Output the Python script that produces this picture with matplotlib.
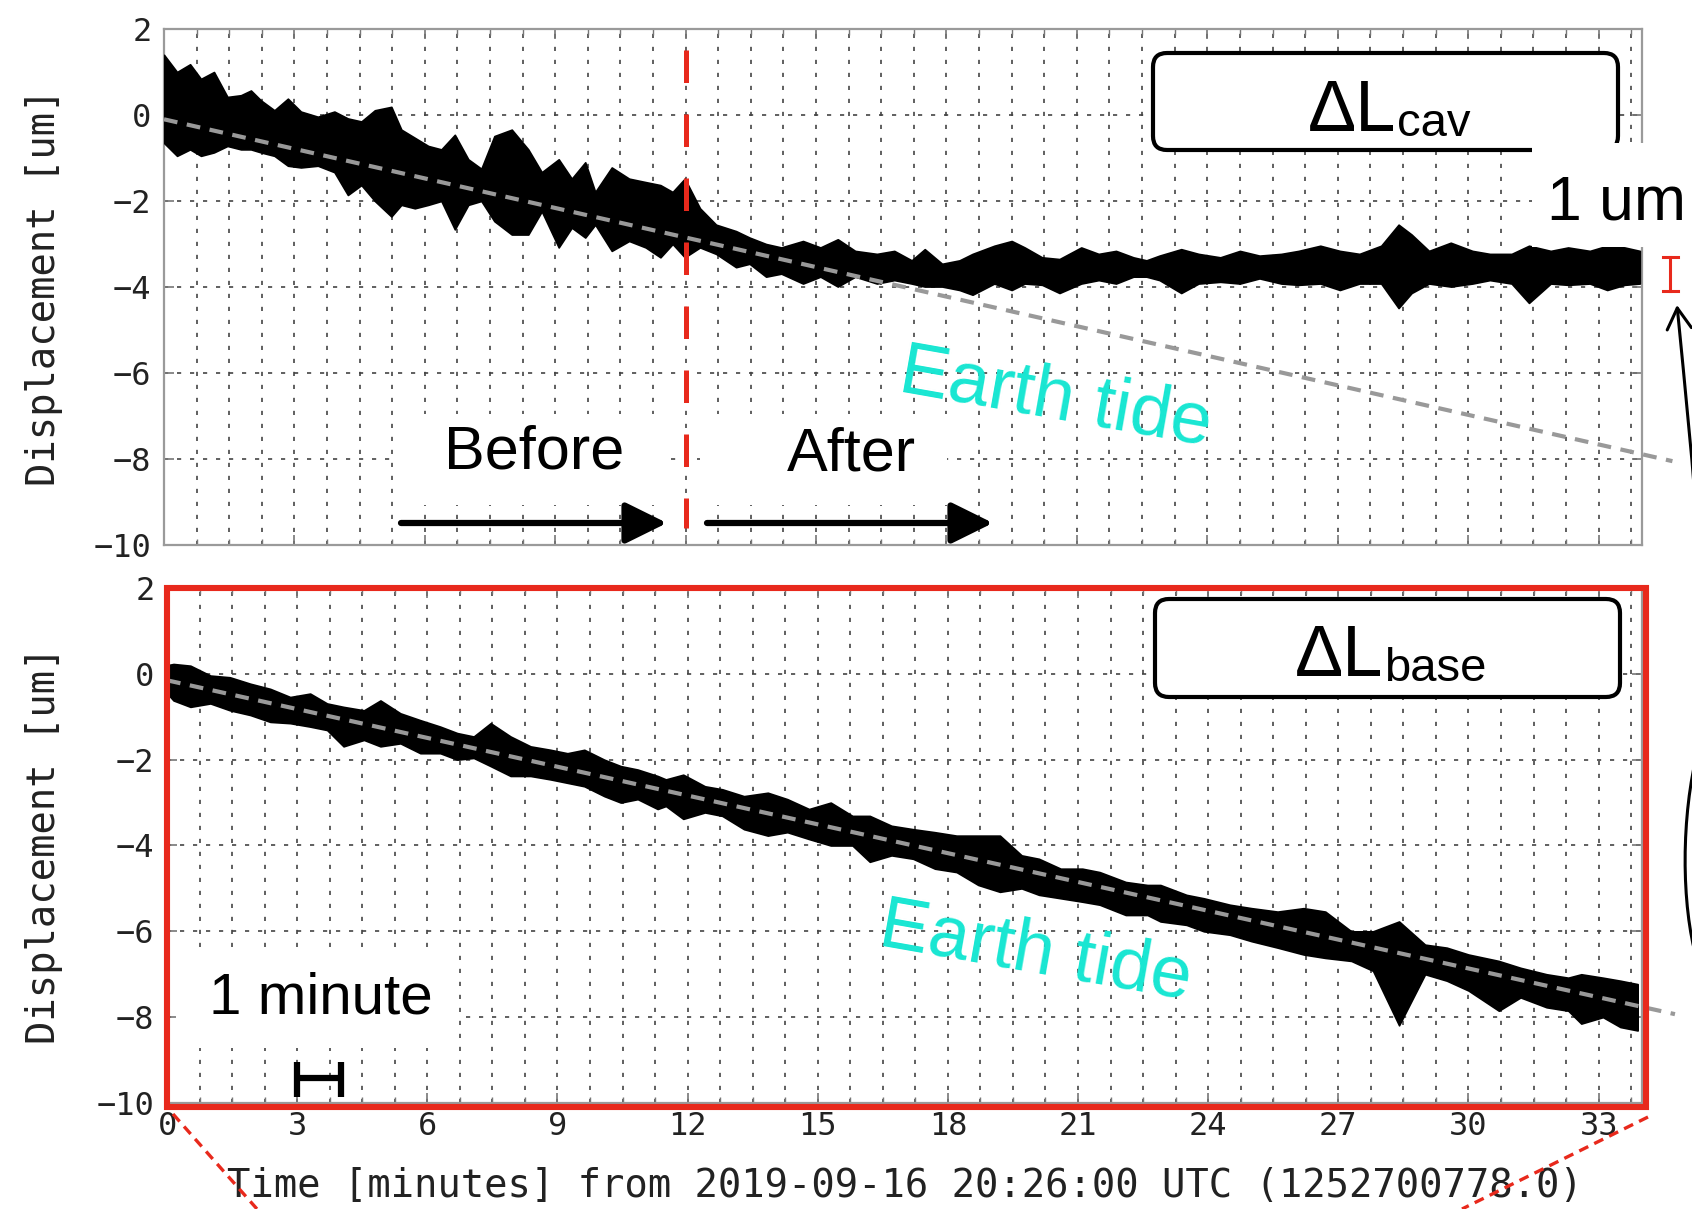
import matplotlib
matplotlib.use("Agg")
import matplotlib.pyplot as plt
from matplotlib.patches import Rectangle, FancyBboxPatch, FancyArrowPatch
from matplotlib.path import Path
from matplotlib.ticker import MultipleLocator

# ---- data (minutes, um) ----
# Delta L_cav: upper / lower envelope of the noisy trace
t_cav = [0.0, 0.3, 0.6, 0.85, 1.15, 1.46, 1.77, 2.0, 2.23, 2.54, 2.85, 3.15,
         3.54, 3.92, 4.23, 4.54, 4.85, 5.23, 5.46, 5.77, 6.08, 6.38, 6.69, 7.0,
         7.3, 7.6, 8.0, 8.38, 8.69, 9.08, 9.38, 9.69, 9.92, 10.3, 10.7, 11.08,
         11.42, 11.7, 11.98, 12.33, 12.7, 13.16, 13.47, 13.85, 14.2, 14.7, 15.1,
         15.5, 15.9, 16.4, 16.8, 17.2, 17.5, 17.9, 18.3, 18.6, 19.1, 19.5, 19.8,
         20.2, 20.6, 21.1, 21.5, 21.9, 22.3, 22.6, 22.9, 23.4, 23.8, 24.3, 24.75,
         25.2, 25.7, 26.1, 26.6, 27.05, 27.5, 28.0, 28.4, 28.7, 29.1, 29.6, 30.1,
         30.5, 31.0, 31.4, 31.9, 32.3, 32.8, 33.2, 33.6, 33.95]
cav_hi = [1.4, 1.0, 1.18, 0.84, 1.0, 0.42, 0.46, 0.57, 0.34, 0.11, 0.38, 0.08,
          -0.04, 0.08, -0.08, -0.15, 0.11, 0.19, -0.34, -0.53, -0.72, -0.8, -0.46,
          -1.03, -1.25, -0.49, -0.34, -0.8, -1.33, -1.03, -1.48, -1.1, -1.79,
          -1.22, -1.48, -1.56, -1.63, -1.79, -1.48, -2.17, -2.55, -2.7, -2.85,
          -3.0, -3.08, -2.93, -3.08, -2.89, -3.16, -3.23, -3.16, -3.38, -3.12,
          -3.46, -3.38, -3.23, -3.04, -2.93, -3.08, -3.31, -3.35, -3.08, -3.23,
          -3.16, -3.31, -3.38, -3.27, -3.12, -3.23, -3.31, -3.16, -3.27, -3.23,
          -3.16, -3.04, -3.16, -3.23, -3.04, -2.55, -2.78, -3.16, -2.97, -3.16,
          -3.23, -3.23, -3.04, -3.16, -3.08, -3.16, -3.04, -3.08, -3.16]
cav_lo = [-0.65, -0.95, -0.8, -0.95, -0.87, -0.72, -0.8, -0.8, -0.87, -0.95,
          -1.18, -1.22, -1.18, -1.33, -1.86, -1.63, -2.0, -2.36, -2.09, -2.17,
          -2.09, -2.0, -2.66, -2.09, -2.0, -2.47, -2.78, -2.78, -2.24, -3.08,
          -2.62, -2.85, -2.55, -3.16, -2.93, -3.08, -3.31, -3.0, -3.31, -3.08,
          -3.23, -3.54, -3.46, -3.76, -3.69, -3.92, -3.76, -3.99, -3.76, -3.92,
          -3.84, -3.92, -3.99, -3.99, -4.07, -4.18, -3.92, -4.07, -3.92, -3.95,
          -4.14, -3.92, -3.84, -3.92, -3.76, -3.76, -3.84, -4.14, -3.92, -3.88,
          -3.92, -3.8, -3.92, -3.95, -3.92, -4.07, -3.92, -3.92, -4.49, -4.14,
          -3.92, -3.99, -3.92, -3.84, -3.92, -4.37, -3.92, -3.95, -3.92, -4.07,
          -3.95, -3.92]

# Delta L_base: upper / lower envelope
t_base = [0.0, 0.15, 0.54, 1.0, 1.45, 1.92, 2.38, 2.84, 3.3, 3.69, 4.07, 4.54,
          4.92, 5.38, 5.84, 6.3, 6.69, 7.07, 7.46, 7.92, 8.38, 8.84, 9.23, 9.62,
          10.08, 10.46, 10.85, 11.31, 11.5, 11.9, 12.4, 12.8, 13.3, 13.85, 14.3,
          14.8, 15.3, 15.8, 16.2, 16.7, 17.2, 17.7, 18.2, 18.7, 19.2, 19.7, 20.1,
          20.6, 21.1, 21.5, 22.1, 22.6, 22.9, 23.5, 23.9, 24.5, 25.0, 25.6, 26.2,
          26.7, 27.3, 27.8, 28.4, 29.0, 29.5, 30.0, 30.7, 31.2, 31.8, 32.3, 32.6,
          33.1, 33.5, 33.9]
base_hi = [0.2, 0.23, 0.19, -0.04, -0.08, -0.23, -0.35, -0.54, -0.46, -0.69,
           -0.77, -0.85, -0.62, -0.92, -1.08, -1.23, -1.38, -1.46, -1.15, -1.46,
           -1.69, -1.77, -1.85, -1.77, -2.0, -2.15, -2.23, -2.38, -2.46, -2.35,
           -2.62, -2.69, -2.85, -2.77, -2.92, -3.15, -3.0, -3.31, -3.31, -3.54,
           -3.62, -3.69, -3.77, -3.77, -3.77, -4.23, -4.31, -4.54, -4.54, -4.62,
           -4.85, -4.92, -4.92, -5.15, -5.23, -5.38, -5.46, -5.54, -5.46, -5.54,
           -6.0, -6.0, -5.77, -6.31, -6.38, -6.54, -6.69, -6.85, -7.0, -7.08,
           -7.0, -7.08, -7.15, -7.23]
base_lo = [-0.45, -0.62, -0.77, -0.69, -0.85, -0.96, -1.12, -1.15, -1.23, -1.31,
           -1.69, -1.54, -1.69, -1.62, -1.85, -1.85, -2.0, -1.96, -2.15, -2.38,
           -2.38, -2.46, -2.54, -2.62, -2.85, -3.0, -2.92, -3.15, -3.08, -3.38,
           -3.23, -3.31, -3.62, -3.77, -3.69, -3.85, -4.0, -4.0, -4.38, -4.23,
           -4.31, -4.54, -4.62, -4.92, -5.08, -5.0, -5.15, -5.23, -5.31, -5.38,
           -5.62, -5.62, -5.77, -5.85, -6.0, -6.08, -6.23, -6.38, -6.54, -6.62,
           -6.69, -6.92, -8.19, -7.0, -7.15, -7.38, -7.85, -7.54, -7.77, -7.85,
           -8.15, -8.0, -8.23, -8.31]

# grey dashed Earth-tide trend (end points)
tide_t_cav = [0.0, 34.7]
tide_cav = [-0.1, -8.05]
tide_t_base = [0.0, 34.76]
tide_base = [-0.15, -7.93]

xticks = list(range(0, 34, 3))
yticks = [2, 0, -2, -4, -6, -8, -10]

RED = "#e8291c"
CYAN = "#18e6d2"
SANS = "Liberation Sans"
plt.rcParams["font.family"] = "DejaVu Sans Mono"

W, H = 1692, 1209
fig = plt.figure(figsize=(W / 100, H / 100), dpi=100)


def px_axes(l, t, r, b, **kw):
    return fig.add_axes([l / W, 1 - b / H, (r - l) / W, (b - t) / H], **kw)


ax1 = px_axes(164, 29, 1642, 545)
ax2 = px_axes(167, 588, 1642, 1103)

for ax in (ax1, ax2):
    ax.set_xlim(0, 34)
    ax.set_ylim(-10, 2)
    ax.set_xticks(xticks)
    ax.set_yticks(yticks)
    ax.xaxis.set_minor_locator(MultipleLocator(0.75))
    ax.tick_params(which="both", direction="in", top=True, right=True,
                   color="#777777")
    ax.tick_params(which="major", length=7, width=1.2, labelsize=23,
                   labelcolor="#222222")
    ax.tick_params(which="minor", length=4, width=1)
    ax.tick_params(axis="y", pad=9)
    ax.tick_params(axis="x", pad=6)
    ax.grid(which="both", axis="x", color="#444444", lw=1.2, ls=(0, (2.5, 5.3)))
    ax.grid(which="major", axis="y", color="#444444", lw=1.2, ls=(0, (2.5, 5.3)))
    for s in ax.spines.values():
        s.set_color("#9a9a9a")
        s.set_linewidth(1.6)
    ax.set_ylabel("Displacement [um]", fontsize=28, color="#222222")

ax1.yaxis.set_label_coords(-0.068, 0.5)
ax2.yaxis.set_label_coords(-0.0705, 0.5)
ax1.tick_params(labelbottom=False)
ax2.set_xlabel("Time [minutes] from 2019-09-16 20:26:00 UTC (1252700778.0)",
               fontsize=28, color="#222222")
ax2.xaxis.set_label_coords(0.5, -0.125)

# traces
ax1.fill_between(t_cav, cav_lo, cav_hi, color="k", lw=1.2, zorder=3)
ax2.fill_between(t_base, base_lo, base_hi, color="k", lw=1.2, zorder=3)
ax1.plot(tide_t_cav, tide_cav, color="#999999", lw=3.0, dashes=(3.3, 2.3),
         clip_on=False, zorder=4)
ax2.plot(tide_t_base, tide_base, color="#999999", lw=3.0, dashes=(3.3, 2.3),
         clip_on=False, zorder=4)

# event marker at 12 min
ax1.plot([12, 12], [1.5, -9.6], color=RED, lw=3.6, dashes=(6.5, 6.3), zorder=4)

# 1-minute scale bar
ax2.plot([3, 4], [-9.42, -9.42], color="k", lw=4.5, solid_capstyle="butt", zorder=4)
ax2.vlines([3, 4], -9.86, -9.05, colors="k", lw=4.5, zorder=4)

# ---- overlay in figure pixels ----
ov = fig.add_axes([0, 0, 1, 1], zorder=5)
ov.set_xlim(0, W)
ov.set_ylim(H, 0)
ov.axis("off")

for (x0, y0, x1, y1) in [(393, 414, 667, 505), (700, 414, 947, 505),
                         (176, 953, 458, 1048)]:
    ov.add_patch(Rectangle((x0, y0), x1 - x0, y1 - y0, fc="white", ec="none",
                           zorder=1))

ov.text(534, 453, "Before", fontsize=44, family=SANS, ha="center", va="center",
        zorder=3)
ov.text(851, 455, "After", fontsize=44, family=SANS, ha="center", va="center",
        zorder=3)
for xa, xb in [(401, 667), (707, 993)]:
    ov.annotate("", xy=(xb, 523), xytext=(xa, 523),
                arrowprops=dict(arrowstyle="-|>,head_length=0.85,head_width=0.42",
                                mutation_scale=30, lw=4.5, color="k",
                                shrinkA=0, shrinkB=0), zorder=3)

ov.text(321, 999, "1 minute", fontsize=42, family=SANS, ha="center",
        va="center", zorder=3)

# Delta L labels
ov.add_patch(FancyBboxPatch((1153, 53), 465, 97,
                            boxstyle="round,pad=0,rounding_size=14",
                            fc="white", ec="k", lw=3.0, zorder=2))
ov.add_patch(FancyBboxPatch((1155, 599), 465, 98,
                            boxstyle="round,pad=0,rounding_size=14",
                            fc="white", ec="k", lw=3.0, zorder=2))
ov.text(1308, 131, "\u0394L", fontsize=52, family=SANS, ha="left",
        va="baseline", zorder=3)
ov.text(1397, 136, "cav", fontsize=34, family=SANS, ha="left",
        va="baseline", zorder=3)
ov.text(1295, 676, "\u0394L", fontsize=52, family=SANS, ha="left",
        va="baseline", zorder=3)
ov.text(1384, 681, "base", fontsize=34, family=SANS, ha="left",
        va="baseline", zorder=3)

# 1 um scale
ov.add_patch(Rectangle((1532, 143), 160, 104, fc="white", ec="none", zorder=4))
ov.text(1547, 220, "1 um", fontsize=45, family=SANS, ha="left",
        va="baseline", zorder=5)
ov.plot([1670, 1670], [257, 291], color=RED, lw=2.2, zorder=5)
ov.plot([1663, 1678], [257, 257], color=RED, lw=2.2, zorder=5)
ov.plot([1663, 1678], [291, 291], color=RED, lw=2.2, zorder=5)
curve = Path([(1697, 960), (1681, 905), (1681, 815), (1698, 750),
              (1712, 640), (1693, 470), (1677, 305)],
             [Path.MOVETO, Path.CURVE4, Path.CURVE4, Path.CURVE4,
              Path.CURVE4, Path.CURVE4, Path.CURVE4])
ov.add_patch(FancyArrowPatch(path=curve, arrowstyle="->,head_length=0.6,head_width=0.35",
                             mutation_scale=25, lw=2.2, color="k", zorder=5))

# Earth tide labels
ov.text(1056, 399, "Earth tide", fontsize=53, family=SANS, color=CYAN,
        rotation=-10, rotation_mode="anchor", ha="center", va="center", zorder=3)
ov.text(1036, 953, "Earth tide", fontsize=53, family=SANS, color=CYAN,
        rotation=-10, rotation_mode="anchor", ha="center", va="center", zorder=3)

# red zoom frame and guide lines
ov.add_patch(Rectangle((167, 588), 1479, 519, fill=False, ec=RED, lw=4.4,
                       zorder=6))
ov.plot([173, 257], [1114, 1209], color=RED, lw=2.4, dashes=(3, 2), zorder=6)
ov.plot([1648, 1462], [1117, 1209], color=RED, lw=2.4, dashes=(3, 2), zorder=6)

fig.savefig("out.png", dpi=100)
